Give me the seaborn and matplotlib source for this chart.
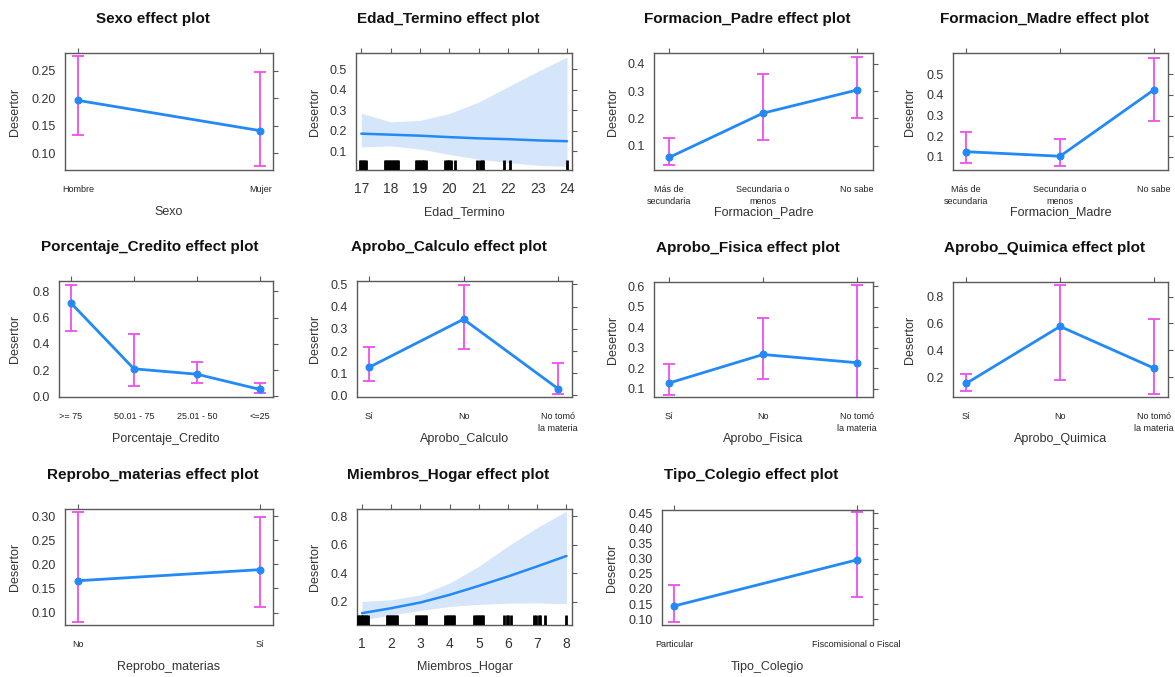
"""Effect plots for the Desertor logistic model (3 x 4 grid, lattice look)."""
import matplotlib
matplotlib.use("Agg")
import matplotlib.pyplot as plt
import seaborn as sns
import pandas as pd

# ---- data ------------------------------------------------------------------
sexo_cats = ["Hombre", "Mujer"]
sexo_fit = [0.196, 0.141]
sexo_lower = [0.133, 0.076]
sexo_upper = [0.276, 0.247]
sexo_yticks = [0.10, 0.15, 0.20, 0.25]

edad_x = [17, 18, 19, 20, 21, 22, 23, 24]
edad_fit = [0.185, 0.180, 0.175, 0.168, 0.162, 0.158, 0.152, 0.148]
edad_lower = [0.120, 0.125, 0.110, 0.083, 0.060, 0.043, 0.030, 0.025]
edad_upper = [0.285, 0.243, 0.250, 0.284, 0.340, 0.415, 0.490, 0.560]
edad_rug = [16.95, 17.0, 17.05, 17.1, 17.15,
            17.8, 17.85, 17.9, 17.95, 18.0, 18.05, 18.1, 18.15, 18.2, 18.25,
            18.85, 18.9, 18.95, 19.0, 19.05, 19.1, 19.15, 19.2,
            19.85, 19.9, 19.95, 20.0, 20.05, 20.2,
            20.95, 21.05, 21.1, 21.15, 21.85, 22.05, 24.0]
edad_yticks = [0.1, 0.2, 0.3, 0.4, 0.5]

padre_cats = ["Más de\nsecundaria", "Secundaria o\nmenos", "No sabe"]
padre_fit = [0.056, 0.219, 0.304]
padre_lower = [0.028, 0.121, 0.202]
padre_upper = [0.127, 0.362, 0.426]
padre_yticks = [0.1, 0.2, 0.3, 0.4]

madre_cats = ["Más de\nsecundaria", "Secundaria o\nmenos", "No sabe"]
madre_fit = [0.124, 0.102, 0.425]
madre_lower = [0.067, 0.055, 0.274]
madre_upper = [0.220, 0.186, 0.580]
madre_yticks = [0.1, 0.2, 0.3, 0.4, 0.5]

credito_cats = [">= 75", "50.01 - 75", "25.01 - 50", "<=25"]
credito_fit = [0.712, 0.210, 0.169, 0.053]
credito_lower = [0.495, 0.078, 0.100, 0.023]
credito_upper = [0.850, 0.472, 0.260, 0.104]
credito_yticks = [0.0, 0.2, 0.4, 0.6, 0.8]

calculo_cats = ["Sí", "No", "No tomó\nla materia"]
calculo_fit = [0.127, 0.343, 0.031]
calculo_lower = [0.067, 0.208, 0.008]
calculo_upper = [0.218, 0.498, 0.148]
calculo_yticks = [0.0, 0.1, 0.2, 0.3, 0.4, 0.5]

fisica_cats = ["Sí", "No", "No tomó\nla materia"]
fisica_fit = [0.128, 0.267, 0.227]
fisica_lower = [0.070, 0.146, 0.055]
fisica_upper = [0.220, 0.447, 0.605]
fisica_yticks = [0.1, 0.2, 0.3, 0.4, 0.5, 0.6]

quimica_cats = ["Sí", "No", "No tomó\nla materia"]
quimica_fit = [0.153, 0.578, 0.267]
quimica_lower = [0.099, 0.180, 0.074]
quimica_upper = [0.220, 0.884, 0.632]
quimica_yticks = [0.2, 0.4, 0.6, 0.8]

reprobo_cats = ["No", "Sí"]
reprobo_fit = [0.166, 0.189]
reprobo_lower = [0.080, 0.112]
reprobo_upper = [0.309, 0.297]
reprobo_yticks = [0.10, 0.15, 0.20, 0.25, 0.30]

miembros_x = [1, 2, 3, 4, 5, 6, 7, 8]
miembros_fit = [0.118, 0.153, 0.193, 0.247, 0.310, 0.376, 0.447, 0.520]
miembros_lower = [0.070, 0.106, 0.137, 0.165, 0.180, 0.188, 0.190, 0.185]
miembros_upper = [0.200, 0.212, 0.247, 0.330, 0.447, 0.590, 0.720, 0.835]
miembros_rug = [0.85, 0.9, 0.95, 1.0, 1.05, 1.1, 1.15, 1.2,
                1.85, 1.9, 1.95, 2.0, 2.05, 2.1, 2.15, 2.2,
                2.85, 2.9, 2.95, 3.0, 3.05, 3.1, 3.15, 3.2,
                3.85, 3.9, 3.95, 4.0, 4.05, 4.1, 4.15,
                4.85, 4.9, 4.95, 5.0, 5.05, 5.1, 5.15,
                5.85, 5.95, 6.0, 6.1, 6.9, 6.95, 7.05, 7.1, 7.25, 8.0]
miembros_yticks = [0.2, 0.4, 0.6, 0.8]

colegio_cats = ["Particular", "Fiscomisional o Fiscal"]
colegio_fit = [0.144, 0.296]
colegio_lower = [0.092, 0.175]
colegio_upper = [0.212, 0.453]
colegio_yticks = [0.10, 0.15, 0.20, 0.25, 0.30, 0.35, 0.40, 0.45]

# ---- styling -----------------------------------------------------------------
BLUE = "#2389f7"
MAGENTA = "#ee4fee"
BAND = "#d5e6fa"
FRAME = "#5a5a5a"
TEXT = "#333333"

sns.set_style("white")
plt.rcParams["font.family"] = ["Liberation Sans", "DejaVu Sans"]

W, H = 1175, 677
fig = plt.figure(figsize=(W / 100, H / 100), dpi=100)


def make_axes(box, ylab_off):
    x0, x1, y0, y1 = box
    ax = fig.add_axes([x0 / W, 1 - y1 / H, (x1 - x0) / W, (y1 - y0) / H])
    for s in ax.spines.values():
        s.set_color(FRAME)
        s.set_linewidth(1.0)
    ax.tick_params(direction="out", length=3.5, width=0.8, color=FRAME,
                   top=True, right=True, labeltop=False, labelright=False,
                   labelsize=9, labelcolor=TEXT, pad=3)
    ax.set_ylabel("Desertor", fontsize=9, color=TEXT)
    ax.yaxis.set_label_coords(-(ylab_off - 6) / (x1 - x0), 0.5)
    return ax, (x1 - x0), (y1 - y0)


def finish(ax, title, xlabel, yticks, fmt, ylim, w, h):
    ax.set_ylim(*ylim)
    ax.set_yticks(yticks)
    ax.set_yticklabels([fmt % v for v in yticks])
    ax.set_xlabel(xlabel, fontsize=9, color=TEXT)
    ax.xaxis.set_label_coords(0.5, -36 / h)
    ax.text(0.5 - 16 / w, 1 + 34.5 / h, title, transform=ax.transAxes,
            ha="center", va="center", fontsize=11, fontweight="bold",
            color="#111111")


def factor_panel(box, ylab_off, name, cats, fit, lower, upper, yticks, fmt,
                 ylim, xlim):
    ax, w, h = make_axes(box, ylab_off)
    pos = list(range(len(cats)))
    df = pd.DataFrame({"pos": pos, "fit": fit})
    yerr = [[f - lo for f, lo in zip(fit, lower)],
            [up - f for f, up in zip(fit, upper)]]
    ax.errorbar(pos, fit, yerr=yerr, fmt="none", ecolor=MAGENTA,
                elinewidth=1.3, capsize=4, capthick=1.3, zorder=2)
    sns.lineplot(data=df, x="pos", y="fit", ax=ax, color=BLUE, linewidth=2,
                 marker="o", markersize=5, markeredgecolor=BLUE, zorder=3)
    ax.set_xlim(*xlim)
    ax.set_xticks(pos)
    ax.set_xticklabels(cats, fontsize=6.5, color="#222222",
                       family=["Liberation Sans Narrow", "Liberation Sans"],
                       linespacing=1.5)
    ax.tick_params(axis="x", pad=7)
    finish(ax, name + " effect plot", name, yticks, fmt, ylim, w, h)


def numeric_panel(box, ylab_off, name, x, fit, lower, upper, rug, yticks,
                  fmt, ylim, xlim):
    ax, w, h = make_axes(box, ylab_off)
    ax.fill_between(x, lower, upper, color=BAND, linewidth=0, zorder=1)
    df = pd.DataFrame({"x": x, "fit": fit})
    sns.lineplot(data=df, x="x", y="fit", ax=ax, color=BLUE, linewidth=1.8,
                 zorder=3)
    sns.rugplot(x=rug, ax=ax, height=0.085, color="black", linewidth=2.0,
                expand_margins=False, zorder=4)
    ax.set_xlim(*xlim)
    ax.set_xticks(x)
    ax.tick_params(axis="x", labelsize=10, pad=5)
    finish(ax, name + " effect plot", name, yticks, fmt, ylim, w, h)


# row 1
factor_panel((65, 273, 53, 170), 50, "Sexo", sexo_cats, sexo_fit, sexo_lower,
             sexo_upper, sexo_yticks, "%.2f", (0.0696, 0.282), (-0.07, 1.07))
numeric_panel((356, 572, 53, 170), 41, "Edad_Termino", edad_x, edad_fit,
              edad_lower, edad_upper, edad_rug, edad_yticks, "%.1f",
              (0.007, 0.58), (16.82, 24.17))
factor_panel((654, 873, 53, 170), 41, "Formacion_Padre", padre_cats,
             padre_fit, padre_lower, padre_upper, padre_yticks, "%.1f",
             (0.01, 0.44), (-0.16, 2.17))
factor_panel((953, 1168, 53, 170), 43, "Formacion_Madre", madre_cats,
             madre_fit, madre_lower, madre_upper, madre_yticks, "%.1f",
             (0.035, 0.604), (-0.14, 2.15))

# row 2
factor_panel((59, 273, 281, 397), 44, "Porcentaje_Credito", credito_cats,
             credito_fit, credito_lower, credito_upper, credito_yticks,
             "%.1f", (-0.005, 0.88), (-0.19, 3.21))
factor_panel((357, 572, 281, 397), 42, "Aprobo_Calculo", calculo_cats,
             calculo_fit, calculo_lower, calculo_upper, calculo_yticks,
             "%.1f", (-0.007, 0.515), (-0.13, 2.15))
factor_panel((654, 873, 282, 397), 41, "Aprobo_Fisica", fisica_cats,
             fisica_fit, fisica_lower, fisica_upper, fisica_yticks, "%.1f",
             (0.06, 0.62), (-0.16, 2.17))
factor_panel((953, 1168, 282, 397), 43, "Aprobo_Quimica", quimica_cats,
             quimica_fit, quimica_lower, quimica_upper, quimica_yticks,
             "%.1f", (0.052, 0.909), (-0.14, 2.15))

# row 3
factor_panel((65, 273, 509, 625), 50, "Reprobo_materias", reprobo_cats,
             reprobo_fit, reprobo_lower, reprobo_upper, reprobo_yticks,
             "%.2f", (0.0744, 0.3145), (-0.07, 1.07))
numeric_panel((357, 572, 509, 625), 42, "Miembros_Hogar", miembros_x,
              miembros_fit, miembros_lower, miembros_upper, miembros_rug,
              miembros_yticks, "%.1f", (0.035, 0.85), (0.83, 8.19))
factor_panel((662, 873, 510, 625), 50, "Tipo_Colegio", colegio_cats,
             colegio_fit, colegio_lower, colegio_upper, colegio_yticks,
             "%.2f", (0.081, 0.461), (-0.068, 1.09))

fig.savefig("out.png", dpi=100, facecolor="white")
